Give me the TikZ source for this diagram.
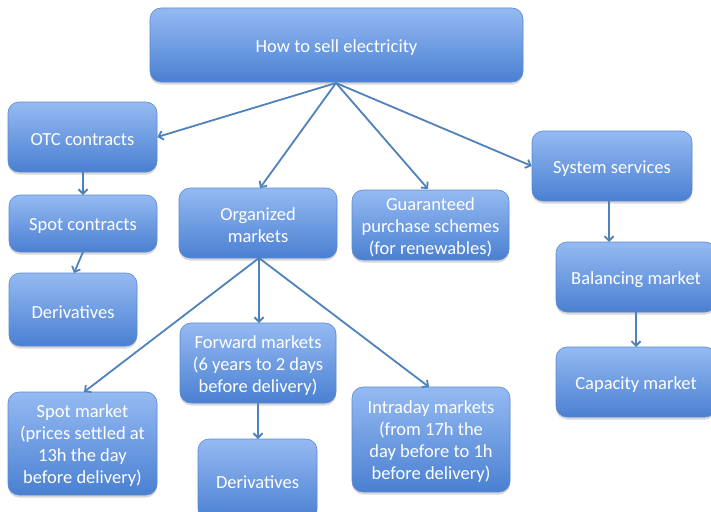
\documentclass[tikz,border=0pt]{standalone}
\usepackage{fontspec}
\setmainfont{Carlito}
\usetikzlibrary{arrows.meta,shadows}
\definecolor{boxtop}{HTML}{95BAF2}
\definecolor{boxbot}{HTML}{4A80D2}
\definecolor{boxline}{HTML}{5A8AD0}
\definecolor{arr}{HTML}{4F81BD}
\tikzset{
  box/.style={draw=boxline, line width=0.6pt, rounded corners=11pt,
    top color=boxtop, bottom color=boxbot, inner sep=0pt,
    drop shadow={shadow xshift=0pt, shadow yshift=-2.5pt, opacity=0.25, fill=black!60}},
  boxtext/.style={text=white, align=center, inner sep=0pt,
    font=\fontsize{18.5}{22}\selectfont},
  conn/.style={draw=arr, line width=1.8pt, -{Straight Barb[length=4.5pt,width=9pt,line width=1.8pt]}}
}
\newcommand{\bx}[6]{% name, x1, y1, x2, y2, text
  \node[box, minimum width={#4-#2}, minimum height={#5-#3}] (#1) at ({(#2+#4)/2},{(#3+#5)/2}) {};
  \node[boxtext] (#1-t) at ([yshift=-2.5pt]#1.center) {#6};}
\begin{document}
\begin{tikzpicture}[x=1pt,y=-1pt]
\useasboundingbox (0,0) rectangle (711,511);
\fill[white] (0,0) rectangle (711,511);
\bx{root}{150}{8}{523}{82}{How to sell electricity}
\bx{otc}{8}{102}{157}{172}{OTC contracts}
\bx{spotc}{9}{195}{157}{252}{Spot contracts}
\bx{derl}{9}{273}{137}{346}{Derivatives}
\bx{org}{179}{188}{337}{258}{Organized\\markets}
\bx{guar}{352}{190}{509}{260}{Guaranteed\\purchase schemes\\(for renewables)}
\bx{sys}{532}{131}{692}{201}{System services}
\bx{bal}{556}{242}{716}{312}{Balancing market}
\bx{cap}{556}{347}{716}{417}{Capacity market}
\bx{spotm}{8}{392}{157}{495}{Spot market\\(prices settled at\\13h the day\\before delivery)}
\bx{fwd}{180}{323}{336}{403}{Forward markets\\(6 years to 2 days\\before delivery)}
\bx{derm}{198}{439}{317}{520}{Derivatives}
\bx{intra}{352}{387}{510}{492}{Intraday markets\\(from 17h the\\day before to 1h\\before delivery)}
\coordinate (rb) at (336,83);
\coordinate (ob) at (259,258);
\draw[conn] (rb) -- (otc.east);
\draw[conn] (rb) -- (260,188);
\draw[conn] (rb) -- (428,189);
\draw[conn] (rb) -- (sys.west);
\draw[conn] (83,172) -- (83,195);
\draw[conn] (83,252) -- (74,273);
\draw[conn] (ob) -- (84,392);
\draw[conn] (ob) -- (259,323);
\draw[conn] (ob) -- (429,387);
\draw[conn] (258,403) -- (258,439);
\draw[conn] (609,201) -- (609,242);
\draw[conn] (636,312) -- (636,347);
\end{tikzpicture}
\end{document}
